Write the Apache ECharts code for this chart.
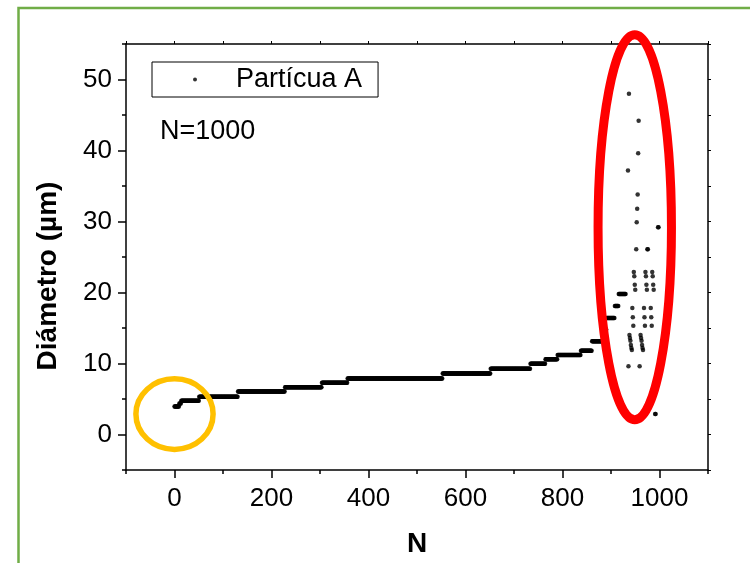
<!DOCTYPE html>
<html>
<head>
    <meta charset="utf-8">
    <title>Diámetro - Partícua A</title>
    <script src="https://cdn.jsdelivr.net/npm/echarts@6/dist/echarts.min.js"></script>
    <style>
        html, body { margin: 0; padding: 0; background: #fff; }
        #main { width: 750px; height: 563px; }
    </style>
</head>
<body>
<div id="main"></div>
<script>
    // plateaus: first N, last N, diameter
    var stepStart = [0, 10, 14, 51, 131, 228, 304, 357, 553, 652, 734, 765, 790, 838, 861, 883, 891, 908, 916];
    var stepEnd   = [9, 13, 50, 130, 227, 303, 356, 552, 651, 733, 764, 789, 837, 860, 882, 890, 907, 915, 930];
    var stepValue = [3.95, 4.35, 4.75, 5.3, 6.05, 6.65, 7.3, 7.9, 8.6, 9.25, 9.95, 10.6, 11.2, 11.8, 13.15, 14.8, 16.4, 18.1, 19.8];

    // scattered particles at the end of the list (inside the red ellipse)
    var tailN = [935, 936, 937, 938, 939, 940, 941, 942, 943, 944, 945, 946, 947, 948, 949, 950,
                 952, 953, 954, 955, 956, 957, 959, 961, 962, 963, 964, 965, 966, 968, 969, 970,
                 971, 972, 973, 974, 975, 976, 982, 983, 984, 985, 986, 987, 988, 991, 992, 997, 998];
    var tailD = [37.2, 9.6, 48.0, 14.0, 13.6, 13.2, 12.6, 12.2, 11.9, 17.8, 16.5, 15.3, 22.9, 22.3, 21.1, 20.4,
                 26.1, 29.9, 31.8, 33.8, 39.6, 44.2, 9.6, 14.0, 13.6, 13.2, 12.6, 12.2, 11.9, 17.8, 16.5, 15.3,
                 22.9, 22.3, 21.1, 20.4, 26.1, 26.1, 17.8, 16.5, 15.3, 22.9, 22.3, 21.1, 20.4, 2.9, 2.9, 29.2, 29.2];

    var xLabels = [0, 200, 400, 600, 800, 1000];
    var xMinor = [-100, 100, 300, 500, 700, 900, 1100];
    var yLabels = [0, 10, 20, 30, 40, 50];
    var yMinor = [-5, 5, 15, 25, 35, 45, 55];

    var data = [];
    for (var s = 0; s < stepStart.length; s++) {
        for (var n = stepStart[s]; n <= stepEnd[s]; n++) {
            data.push([n, stepValue[s]]);
        }
    }
    for (var t = 0; t < tailN.length; t++) {
        data.push([tailN[t], tailD[t]]);
    }

    var font = "'Liberation Sans', Arial, sans-serif";
    var line = {show: true, onZero: false, lineStyle: {color: '#000', width: 1.5}};
    var noLine = {show: false, onZero: false};
    var plain = function (v) { return String(v); };

    var myChart = echarts.init(document.getElementById('main'));
    var option = {
        animation: false,
        backgroundColor: '#fff',
        grid: {left: 126, right: 42, top: 44, bottom: 92, containLabel: false},
        legend: {
            left: 152, top: 62,
            orient: 'vertical',
            padding: [4, 16, 4, 41],
            borderColor: '#000', borderWidth: 1, borderRadius: 0,
            itemWidth: 4, itemHeight: 4,
            icon: 'circle',
            data: ['Partícua A'],
            formatter: function (name) { return '{g|}{t|' + name + '}'; },
            textStyle: {
                rich: {
                    g: {width: 34},
                    t: {fontSize: 27, fontFamily: font, color: '#000', lineHeight: 29}
                }
            }
        },
        xAxis: [
            {
                type: 'value', position: 'bottom', min: -100, max: 1100, interval: 100,
                axisLine: line,
                axisTick: {customValues: xLabels, length: 8, lineStyle: {color: '#000', width: 1.5}},
                axisLabel: {customValues: xLabels, formatter: plain, fontSize: 26, fontFamily: font, color: '#000', margin: 16},
                splitLine: {show: false},
                name: 'N', nameLocation: 'middle', nameGap: 60,
                nameTextStyle: {fontSize: 28, fontWeight: 'bold', fontFamily: font, color: '#000'}
            },
            {
                type: 'value', position: 'bottom', min: -100, max: 1100, interval: 100,
                axisLine: noLine,
                axisTick: {customValues: xMinor, length: 4, lineStyle: {color: '#000', width: 1.5}},
                axisLabel: {show: false}, splitLine: {show: false}
            },
            {
                type: 'value', position: 'top', min: -100, max: 1100, interval: 100,
                axisLine: line,
                axisTick: {length: 3, lineStyle: {color: '#000', width: 1}},
                axisLabel: {show: false}, splitLine: {show: false}
            }
        ],
        yAxis: [
            {
                type: 'value', position: 'left', min: -5, max: 55, interval: 5,
                axisLine: line,
                axisTick: {customValues: yLabels, length: 8, lineStyle: {color: '#000', width: 1.5}},
                axisLabel: {customValues: yLabels, formatter: plain, fontSize: 26, fontFamily: font, color: '#000', margin: 14},
                splitLine: {show: false}
            },
            {
                type: 'value', position: 'left', min: -5, max: 55, interval: 5,
                axisLine: noLine,
                axisTick: {customValues: yMinor, length: 4, lineStyle: {color: '#000', width: 1.5}},
                axisLabel: {show: false}, splitLine: {show: false}
            },
            {
                type: 'value', position: 'right', min: -5, max: 55, interval: 5,
                axisLine: line,
                axisTick: {length: 3, lineStyle: {color: '#000', width: 1}},
                axisLabel: {show: false}, splitLine: {show: false}
            }
        ],
        series: [
            {
                name: 'Partícua A',
                type: 'scatter',
                xAxisIndex: 0, yAxisIndex: 0,
                symbol: 'circle', symbolSize: 4.5,
                itemStyle: {color: '#000'},
                data: data
            }
        ]
    };
    myChart.setOption(option);

    // annotations: ellipses centred on data points, green frame, texts
    var red = myChart.convertToPixel({xAxisIndex: 0, yAxisIndex: 0}, [949, 29.2]);
    var orange = myChart.convertToPixel({xAxisIndex: 0, yAxisIndex: 0}, [0, 2.87]);
    myChart.setOption({
        graphic: [
            {
                type: 'rect', id: 'frame', z: 0, silent: true,
                shape: {x: 18.5, y: 8, width: 900, height: 700},
                style: {fill: null, stroke: '#70AD47', lineWidth: 2.5}
            },
            {
                type: 'text', id: 'ntext', left: 160, top: 118, z: 100,
                style: {text: 'N=1000', fontSize: 27, fontFamily: font, fill: '#000'}
            },
            {
                type: 'text', id: 'ytitle', x: 48, y: 276, rotation: Math.PI / 2, z: 100,
                style: {
                    text: 'Diámetro (µm)', fontSize: 28, fontWeight: 'bold', fontFamily: font, fill: '#000',
                    align: 'center', verticalAlign: 'middle'
                }
            },
            {
                type: 'ellipse', id: 'redEllipse', z: 100, silent: true,
                shape: {cx: red[0], cy: red[1], rx: 36.7, ry: 192.5},
                style: {fill: null, stroke: '#FF0000', lineWidth: 9}
            },
            {
                type: 'ellipse', id: 'orangeEllipse', z: 100, silent: true,
                shape: {cx: orange[0], cy: orange[1], rx: 38.6, ry: 35.3},
                style: {fill: null, stroke: '#FFC000', lineWidth: 5.5}
            }
        ]
    });
</script>
</body>
</html>
